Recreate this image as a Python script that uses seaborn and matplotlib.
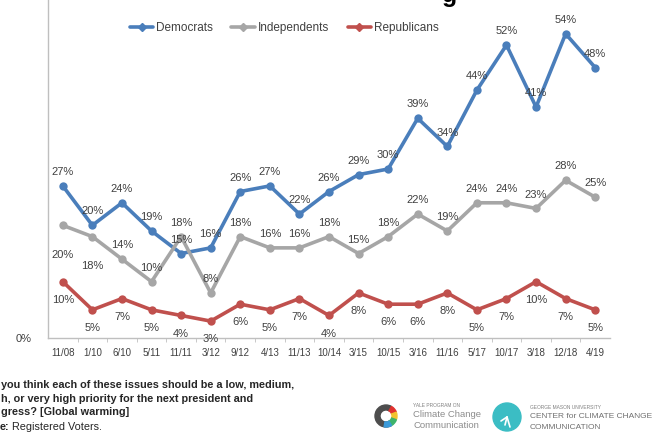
import pandas as pd
import seaborn as sns
import matplotlib.pyplot as plt
from matplotlib.patches import Circle, Wedge
from matplotlib.lines import Line2D

# survey waves and % saying global warming is a high/very high priority
waves = ["11/08", "1/10", "6/10", "5/11", "11/11", "3/12", "9/12", "4/13", "11/13", "10/14",
         "3/15", "10/15", "3/16", "11/16", "5/17", "10/17", "3/18", "12/18", "4/19"]
democrats = [27, 20, 24, 19, 15, 16, 26, 27, 22, 26, 29, 30, 39, 34, 44, 52, 41, 54, 48]
independents = [20, 18, 14, 10, 18, 8, 18, 16, 16, 18, 15, 18, 22, 19, 24, 24, 23, 28, 25]
republicans = [10, 5, 7, 5, 4, 3, 6, 5, 7, 4, 8, 6, 6, 8, 5, 7, 10, 7, 5]

parties = ["Democrats", "Independents", "Republicans"]
colors = {"Democrats": "#4a7ebb", "Independents": "#a6a6a6", "Republicans": "#c0504d"}

df = pd.DataFrame({"wave": waves * 3,
                   "party": [p for p in parties for _ in waves],
                   "pct": democrats + independents + republicans})

sns.set_style("white")
plt.rcParams['font.family'] = ['Liberation Sans', 'DejaVu Sans']

fig = plt.figure(figsize=(6.57, 4.36), dpi=100)
W, H = 657, 436
ax = fig.add_axes([48 / W, (H - 338) / H, (610 - 48) / W, 338 / H])

sns.lineplot(data=df, x="wave", y="pct", hue="party", hue_order=parties, palette=colors,
             marker="o", markersize=6, markeredgewidth=0, linewidth=2.6, sort=False,
             legend=False, ax=ax)

ax.set_xlim(-0.5, len(waves) - 0.5)
ax.set_ylim(0, 60)
ax.set_xlabel("")
ax.set_ylabel("")

# data labels: Democrats/Independents above, Republicans below
label_dy = {"Democrats": 10, "Independents": 10, "Republicans": -13}
for party, vals in zip(parties, [democrats, independents, republicans]):
    for i, v in enumerate(vals):
        dy = label_dy[party]
        if party == "Independents" and i < 2:
            dy = -21
        ax.annotate(f"{v}%", (i, v), xytext=(0, dy), textcoords="offset points",
                    ha="center", va="center", fontsize=8, color="#404040")

ax.set_xticks(range(len(waves)))
ax.set_xticklabels(waves, fontsize=7, color="#404040")
ax.set_xticks([i + 0.5 for i in range(len(waves) - 1)], minor=True)
ax.tick_params(axis="x", which="major", length=0, pad=7)
ax.tick_params(axis="x", which="minor", length=3, color="#bfbfbf", bottom=True)
ax.set_yticks([0])
ax.set_yticklabels(["0%"], fontsize=8, color="#404040")
ax.tick_params(axis="y", length=0, pad=12)

for s in ["top", "right"]:
    ax.spines[s].set_visible(False)
for s in ["left", "bottom"]:
    ax.spines[s].set_color("#bfbfbf")
    ax.spines[s].set_linewidth(1)

handles = [Line2D([], [], color=colors[p], lw=2.6, marker="D", markersize=4) for p in parties]
ax.legend(handles, parties, loc="center", bbox_to_anchor=(0.42, 0.917), ncol=3, frameon=False,
          fontsize=8.5, handlelength=2.0, handletextpad=0.2, columnspacing=1.6,
          labelcolor="#404040")

# clipped title fragment at the top edge
fig.text(442 / W, 1 - 2 / H, "g", fontsize=18, fontweight="bold", va="baseline", color="black")

# question text (cut at the left edge)
q_lines = ["you think each of these issues should be a low, medium,",
           "h, or very high priority for the next president and",
           "gress? [Global warming]"]
for k, line in enumerate(q_lines):
    fig.text(1 / W, 1 - (385 + 13.5 * k) / H, line, fontsize=7.8, fontweight="bold",
             va="center", color="#262626")
fig.text(0 / W, 1 - 427 / H, "e:", fontsize=7.8, fontweight="bold", va="center", color="#262626")
fig.text(12 / W, 1 - 427 / H, "Registered Voters.", fontsize=7.8, va="center", color="#262626")

# logos, drawn in a pixel-scaled strip so circles stay round
lx = fig.add_axes([360 / W, 0, 297 / W, 41 / H])
lx.set_xlim(360, 657)
lx.set_ylim(436, 395)
lx.axis("off")
lx.add_patch(Wedge((386, 416), 11, 60, 300, width=5, color="#4d4d4d"))
for a0, a1, c in [(-60, -20, "#e0312f"), (-20, 20, "#f2c230"), (20, 60, "#3db36b")]:
    lx.add_patch(Wedge((386, 416), 11, a0, a1, width=5, color=c))
lx.add_patch(Wedge((386, 416), 11, 60, 100, width=5, color="#3a9ad9"))
lx.text(413, 405, "YALE PROGRAM ON", fontsize=3.5, color="#808080", va="center")
lx.text(413, 414, "Climate Change", fontsize=6.8, color="#8c8c8c", va="center")
lx.text(413, 425, "Communication", fontsize=6.8, color="#8c8c8c", va="center")

lx.add_patch(Circle((507, 417), 14, color="#3bbdc4"))
for dx, dy in [(-6, 4), (-2, 8), (3, 10)]:
    lx.plot([507, 507 + dx], [417, 417 + dy], color="white", lw=1.2)
lx.text(530, 407, "GEORGE MASON UNIVERSITY", fontsize=3.5, color="#808080", va="center")
lx.text(530, 416, "CENTER for CLIMATE CHANGE", fontsize=6.0, color="#707070", va="center")
lx.text(530, 427, "COMMUNICATION", fontsize=6.0, color="#707070", va="center")

fig.savefig("out.png", dpi=100)
